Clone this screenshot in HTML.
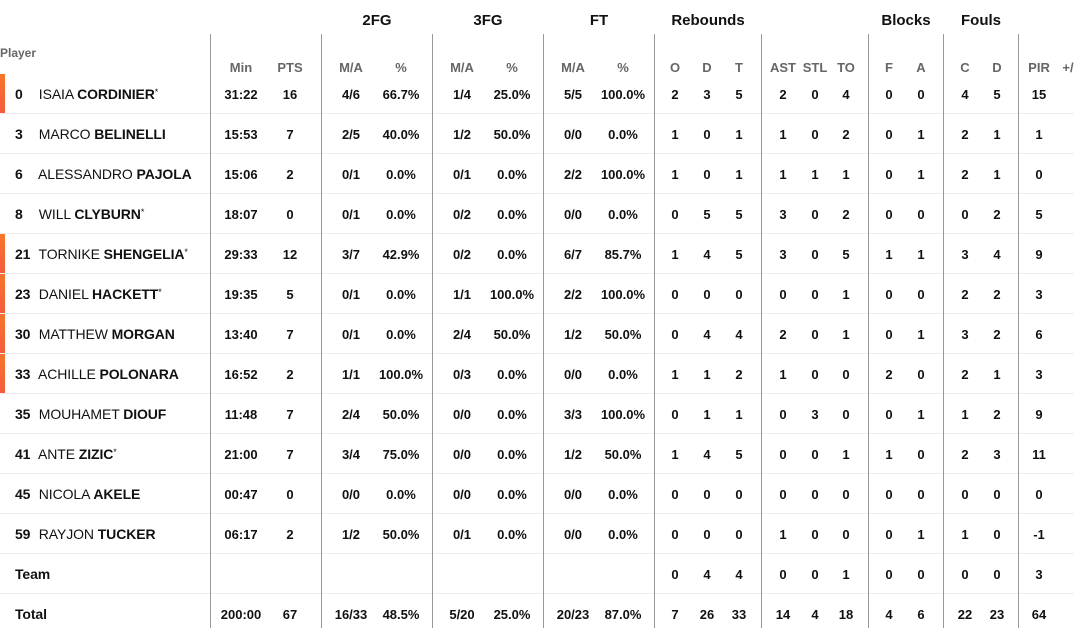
<!DOCTYPE html><html><head><style>
body{margin:0;width:1074px;height:628px;overflow:hidden;background:#fff;font-family:"Liberation Sans",sans-serif;color:#111;position:relative}
.v{position:absolute;top:34px;bottom:0;width:1px;background:#999}
.g{position:absolute;top:12px;font-weight:bold;font-size:15px;width:100px;text-align:center}
.h{position:absolute;top:60px;height:14px;left:0;width:1074px;color:#666;font-size:13px;font-weight:bold}
.r{position:absolute;left:0;width:1074px;height:40px;border-bottom:1px solid #eee;box-sizing:border-box}
.r span,.h span{position:absolute;width:60px;text-align:center}
.r span{top:13px;font-size:13px;font-weight:bold}
.r .p{left:15px;width:190px;text-align:left;font-size:14px;font-weight:normal;top:12px;letter-spacing:-0.1px}
.p b{font-weight:bold}
.p i{font-style:normal;display:inline-block;width:20px;font-weight:bold}
.p sup{font-size:9px;vertical-align:4px;line-height:0}
.bar{position:absolute;left:0;top:0;width:5px;height:39px;background:linear-gradient(#f7772c,#f55a3c)}
.c0{left:211px}.c1{left:260px}.c2{left:321px}.c3{left:371px}.c4{left:432px}.c5{left:482px}.c6{left:543px}.c7{left:593px}.c8{left:645px}.c9{left:677px}.c10{left:709px}.c11{left:753px}.c12{left:785px}.c13{left:816px}.c14{left:859px}.c15{left:891px}.c16{left:935px}.c17{left:967px}.c18{left:1009px}
</style></head><body>
<div class="g" style="left:327px">2FG</div><div class="g" style="left:438px">3FG</div><div class="g" style="left:549px">FT</div><div class="g" style="left:658px">Rebounds</div><div class="g" style="left:856px">Blocks</div><div class="g" style="left:931px">Fouls</div>
<div style="position:absolute;left:0;top:46px;color:#666;font-size:12px;font-weight:bold">Player</div>
<div class="h"><span class="c0">Min</span><span class="c1">PTS</span><span class="c2">M/A</span><span class="c3">%</span><span class="c4">M/A</span><span class="c5">%</span><span class="c6">M/A</span><span class="c7">%</span><span class="c8">O</span><span class="c9">D</span><span class="c10">T</span><span class="c11">AST</span><span class="c12">STL</span><span class="c13">TO</span><span class="c14">F</span><span class="c15">A</span><span class="c16">C</span><span class="c17">D</span><span class="c18">PIR</span><span style="left:1058px;width:20px">+/</span></div>

<div class="r" style="top:74px"><div class="bar"></div><span class="p"><i>0</i> ISAIA <b>CORDINIER</b><sup>*</sup></span><span class="c0">31:22</span><span class="c1">16</span><span class="c2">4/6</span><span class="c3">66.7%</span><span class="c4">1/4</span><span class="c5">25.0%</span><span class="c6">5/5</span><span class="c7">100.0%</span><span class="c8">2</span><span class="c9">3</span><span class="c10">5</span><span class="c11">2</span><span class="c12">0</span><span class="c13">4</span><span class="c14">0</span><span class="c15">0</span><span class="c16">4</span><span class="c17">5</span><span class="c18">15</span></div>
<div class="r" style="top:114px"><span class="p"><i>3</i> MARCO <b>BELINELLI</b></span><span class="c0">15:53</span><span class="c1">7</span><span class="c2">2/5</span><span class="c3">40.0%</span><span class="c4">1/2</span><span class="c5">50.0%</span><span class="c6">0/0</span><span class="c7">0.0%</span><span class="c8">1</span><span class="c9">0</span><span class="c10">1</span><span class="c11">1</span><span class="c12">0</span><span class="c13">2</span><span class="c14">0</span><span class="c15">1</span><span class="c16">2</span><span class="c17">1</span><span class="c18">1</span></div>
<div class="r" style="top:154px"><span class="p"><i>6</i> ALESSANDRO <b>PAJOLA</b></span><span class="c0">15:06</span><span class="c1">2</span><span class="c2">0/1</span><span class="c3">0.0%</span><span class="c4">0/1</span><span class="c5">0.0%</span><span class="c6">2/2</span><span class="c7">100.0%</span><span class="c8">1</span><span class="c9">0</span><span class="c10">1</span><span class="c11">1</span><span class="c12">1</span><span class="c13">1</span><span class="c14">0</span><span class="c15">1</span><span class="c16">2</span><span class="c17">1</span><span class="c18">0</span></div>
<div class="r" style="top:194px"><span class="p"><i>8</i> WILL <b>CLYBURN</b><sup>*</sup></span><span class="c0">18:07</span><span class="c1">0</span><span class="c2">0/1</span><span class="c3">0.0%</span><span class="c4">0/2</span><span class="c5">0.0%</span><span class="c6">0/0</span><span class="c7">0.0%</span><span class="c8">0</span><span class="c9">5</span><span class="c10">5</span><span class="c11">3</span><span class="c12">0</span><span class="c13">2</span><span class="c14">0</span><span class="c15">0</span><span class="c16">0</span><span class="c17">2</span><span class="c18">5</span></div>
<div class="r" style="top:234px"><div class="bar"></div><span class="p"><i>21</i> TORNIKE <b>SHENGELIA</b><sup>*</sup></span><span class="c0">29:33</span><span class="c1">12</span><span class="c2">3/7</span><span class="c3">42.9%</span><span class="c4">0/2</span><span class="c5">0.0%</span><span class="c6">6/7</span><span class="c7">85.7%</span><span class="c8">1</span><span class="c9">4</span><span class="c10">5</span><span class="c11">3</span><span class="c12">0</span><span class="c13">5</span><span class="c14">1</span><span class="c15">1</span><span class="c16">3</span><span class="c17">4</span><span class="c18">9</span></div>
<div class="r" style="top:274px"><div class="bar"></div><span class="p"><i>23</i> DANIEL <b>HACKETT</b><sup>*</sup></span><span class="c0">19:35</span><span class="c1">5</span><span class="c2">0/1</span><span class="c3">0.0%</span><span class="c4">1/1</span><span class="c5">100.0%</span><span class="c6">2/2</span><span class="c7">100.0%</span><span class="c8">0</span><span class="c9">0</span><span class="c10">0</span><span class="c11">0</span><span class="c12">0</span><span class="c13">1</span><span class="c14">0</span><span class="c15">0</span><span class="c16">2</span><span class="c17">2</span><span class="c18">3</span></div>
<div class="r" style="top:314px"><div class="bar"></div><span class="p"><i>30</i> MATTHEW <b>MORGAN</b></span><span class="c0">13:40</span><span class="c1">7</span><span class="c2">0/1</span><span class="c3">0.0%</span><span class="c4">2/4</span><span class="c5">50.0%</span><span class="c6">1/2</span><span class="c7">50.0%</span><span class="c8">0</span><span class="c9">4</span><span class="c10">4</span><span class="c11">2</span><span class="c12">0</span><span class="c13">1</span><span class="c14">0</span><span class="c15">1</span><span class="c16">3</span><span class="c17">2</span><span class="c18">6</span></div>
<div class="r" style="top:354px"><div class="bar"></div><span class="p"><i>33</i> ACHILLE <b>POLONARA</b></span><span class="c0">16:52</span><span class="c1">2</span><span class="c2">1/1</span><span class="c3">100.0%</span><span class="c4">0/3</span><span class="c5">0.0%</span><span class="c6">0/0</span><span class="c7">0.0%</span><span class="c8">1</span><span class="c9">1</span><span class="c10">2</span><span class="c11">1</span><span class="c12">0</span><span class="c13">0</span><span class="c14">2</span><span class="c15">0</span><span class="c16">2</span><span class="c17">1</span><span class="c18">3</span></div>
<div class="r" style="top:394px"><span class="p"><i>35</i> MOUHAMET <b>DIOUF</b></span><span class="c0">11:48</span><span class="c1">7</span><span class="c2">2/4</span><span class="c3">50.0%</span><span class="c4">0/0</span><span class="c5">0.0%</span><span class="c6">3/3</span><span class="c7">100.0%</span><span class="c8">0</span><span class="c9">1</span><span class="c10">1</span><span class="c11">0</span><span class="c12">3</span><span class="c13">0</span><span class="c14">0</span><span class="c15">1</span><span class="c16">1</span><span class="c17">2</span><span class="c18">9</span></div>
<div class="r" style="top:434px"><span class="p"><i>41</i> ANTE <b>ZIZIC</b><sup>*</sup></span><span class="c0">21:00</span><span class="c1">7</span><span class="c2">3/4</span><span class="c3">75.0%</span><span class="c4">0/0</span><span class="c5">0.0%</span><span class="c6">1/2</span><span class="c7">50.0%</span><span class="c8">1</span><span class="c9">4</span><span class="c10">5</span><span class="c11">0</span><span class="c12">0</span><span class="c13">1</span><span class="c14">1</span><span class="c15">0</span><span class="c16">2</span><span class="c17">3</span><span class="c18">11</span></div>
<div class="r" style="top:474px"><span class="p"><i>45</i> NICOLA <b>AKELE</b></span><span class="c0">00:47</span><span class="c1">0</span><span class="c2">0/0</span><span class="c3">0.0%</span><span class="c4">0/0</span><span class="c5">0.0%</span><span class="c6">0/0</span><span class="c7">0.0%</span><span class="c8">0</span><span class="c9">0</span><span class="c10">0</span><span class="c11">0</span><span class="c12">0</span><span class="c13">0</span><span class="c14">0</span><span class="c15">0</span><span class="c16">0</span><span class="c17">0</span><span class="c18">0</span></div>
<div class="r" style="top:514px"><span class="p"><i>59</i> RAYJON <b>TUCKER</b></span><span class="c0">06:17</span><span class="c1">2</span><span class="c2">1/2</span><span class="c3">50.0%</span><span class="c4">0/1</span><span class="c5">0.0%</span><span class="c6">0/0</span><span class="c7">0.0%</span><span class="c8">0</span><span class="c9">0</span><span class="c10">0</span><span class="c11">1</span><span class="c12">0</span><span class="c13">0</span><span class="c14">0</span><span class="c15">1</span><span class="c16">1</span><span class="c17">0</span><span class="c18">-1</span></div>
<div class="r" style="top:554px"><span class="p"><b>Team</b></span><span class="c8">0</span><span class="c9">4</span><span class="c10">4</span><span class="c11">0</span><span class="c12">0</span><span class="c13">1</span><span class="c14">0</span><span class="c15">0</span><span class="c16">0</span><span class="c17">0</span><span class="c18">3</span></div>
<div class="r" style="top:594px;border:none"><span class="p"><b>Total</b></span><span class="c0">200:00</span><span class="c1">67</span><span class="c2">16/33</span><span class="c3">48.5%</span><span class="c4">5/20</span><span class="c5">25.0%</span><span class="c6">20/23</span><span class="c7">87.0%</span><span class="c8">7</span><span class="c9">26</span><span class="c10">33</span><span class="c11">14</span><span class="c12">4</span><span class="c13">18</span><span class="c14">4</span><span class="c15">6</span><span class="c16">22</span><span class="c17">23</span><span class="c18">64</span></div>

<div class="v" style="left:210px"></div><div class="v" style="left:321px"></div><div class="v" style="left:432px"></div><div class="v" style="left:543px"></div><div class="v" style="left:654px"></div><div class="v" style="left:761px"></div><div class="v" style="left:868px"></div><div class="v" style="left:943px"></div><div class="v" style="left:1018px"></div>
</body></html>
